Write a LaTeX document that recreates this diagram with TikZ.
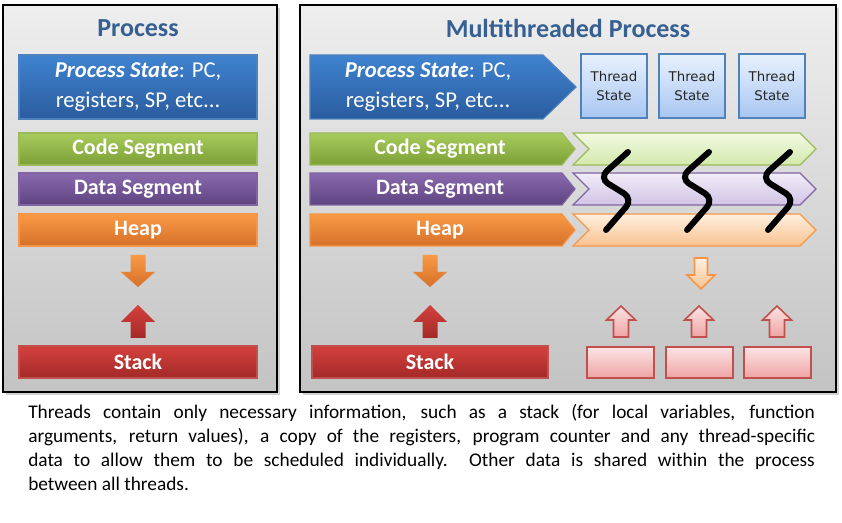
\documentclass[tikz,border=0pt]{standalone}
\usepackage{fontspec}
\setmainfont{Carlito}
\newfontfamily\statefont{DejaVu Sans}
\usetikzlibrary{shadows,calc}
\definecolor{TitleBlue}{HTML}{376092}
\definecolor{PanelTop}{HTML}{EEEEEE}
\definecolor{PanelBot}{HTML}{C3C3C3}
\definecolor{PsTop}{HTML}{3F83D0}
\definecolor{PsBot}{HTML}{2A5C9E}
\definecolor{PsLine}{HTML}{4F81BD}
\definecolor{CsTop}{HTML}{A8CB5C}
\definecolor{CsBot}{HTML}{7CA036}
\definecolor{CsLine}{HTML}{9BBB59}
\definecolor{DsTop}{HTML}{8A6AAE}
\definecolor{DsBot}{HTML}{5E4380}
\definecolor{DsLine}{HTML}{8064A2}
\definecolor{HpTop}{HTML}{F99A45}
\definecolor{HpBot}{HTML}{D6702A}
\definecolor{HpLine}{HTML}{F79646}
\definecolor{StTop}{HTML}{D4413E}
\definecolor{StBot}{HTML}{A32928}
\definecolor{StLine}{HTML}{C0504D}
\definecolor{TsTop}{HTML}{E8F1FD}
\definecolor{TsBot}{HTML}{A8C6F2}
\definecolor{LcTop}{HTML}{F2F9E4}
\definecolor{LcBot}{HTML}{D2EAAC}
\definecolor{LdTop}{HTML}{F1ECF7}
\definecolor{LdBot}{HTML}{D1C4E5}
\definecolor{LhTop}{HTML}{FEF0E0}
\definecolor{LhBot}{HTML}{F9C290}
\definecolor{LsTop}{HTML}{FBE4E4}
\definecolor{LsBot}{HTML}{EFA3A3}
\tikzset{
    panel/.style = {draw=black, line width=1.4pt,
        top color=PanelTop, bottom color=PanelBot,
        drop shadow={shadow xshift=2.5pt, shadow yshift=-2.5pt, opacity=.35}},
    seg/.style = {line width=.9pt},
    title/.style = {text=TitleBlue, font=\fontsize{19.5}{22}\selectfont\bfseries},
    segtext/.style = {text=white, font=\fontsize{16.5}{20}\selectfont\bfseries, inner sep=0pt},
    pstext/.style = {text=white, align=center, font=\fontsize{17}{20}\selectfont, inner sep=0pt},
    statetext/.style = {text=black!85, align=center, font=\statefont\fontsize{10}{14.5}\selectfont, inner sep=0pt},
    thread/.style = {line width=4.5pt, line cap=round, rounded corners=8pt}
}
% block arrow: x, from y, neck y, tip y, half shaft, half head, style
\newcommand{\blockarrow}[7]{%
    \path[#7] (#1-#5,#2) -- (#1+#5,#2) -- (#1+#5,#3) -- (#1+#6,#3) -- (#1,#4)
        -- (#1-#6,#3) -- (#1-#5,#3) -- cycle;}
\begin{document}
\begin{tikzpicture}[x=0.75pt,y=-0.75pt]
    \useasboundingbox[fill=white] (0,0) rectangle (842,523);
    % the two frames
    \path[panel] (3,5) rectangle (277,392);
    \path[panel] (300,5) rectangle (836,392);
    \node[title] (ptitle) at (138,28) {Process};
    \node[title] (mtitle) at (568,28) {Multithreaded Process};

    % single threaded process
    \path[seg, draw=PsLine, top color=PsTop, bottom color=PsBot] (19,55) rectangle (257,119);
    \path[seg, draw=CsLine, top color=CsTop, bottom color=CsBot] (19,133) rectangle (257,165);
    \path[seg, draw=DsLine, top color=DsTop, bottom color=DsBot] (19,173) rectangle (257,205);
    \path[seg, draw=HpLine, top color=HpTop, bottom color=HpBot] (19,214) rectangle (257,246);
    \path[seg, draw=StLine, top color=StTop, bottom color=StBot] (19,346) rectangle (257,378);
    \node[pstext] (lstate) at (138,87)
        {\textbf{\textit{Process State}}: PC,\\[2pt]registers, SP, etc...};
    \node[segtext] (lcode) at (138,149) {Code Segment};
    \node[segtext] (ldata) at (138,189) {Data Segment};
    \node[segtext] (lheap) at (138,230) {Heap};
    \node[segtext] (lstack) at (138,362) {Stack};
    \blockarrow{138}{255}{272}{287}{7.5}{17}{top color=HpTop, bottom color=HpBot}
    \blockarrow{138}{338}{322}{305}{7.5}{17}{top color=StTop, bottom color=StBot}

    % multithreaded process, shared part
    \path[seg, draw=PsLine, top color=PsTop, bottom color=PsBot]
        (310,55) -- (543,55) -- (576,87) -- (543,119) -- (310,119) -- cycle;
    \path[seg, draw=CsLine, top color=CsTop, bottom color=CsBot]
        (310,133) -- (562,133) -- (575,149) -- (562,165) -- (310,165) -- cycle;
    \path[seg, draw=DsLine, top color=DsTop, bottom color=DsBot]
        (310,173) -- (562,173) -- (575,189) -- (562,205) -- (310,205) -- cycle;
    \path[seg, draw=HpLine, top color=HpTop, bottom color=HpBot]
        (310,214) -- (562,214) -- (575,230) -- (562,246) -- (310,246) -- cycle;
    \path[seg, draw=StLine, top color=StTop, bottom color=StBot] (312,346) rectangle (548,378);
    \node[pstext] (rstate) at (428,87)
        {\textbf{\textit{Process State}}: PC,\\[2pt]registers, SP, etc...};
    \node[segtext] (rcode) at (440,149) {Code Segment};
    \node[segtext] (rdata) at (440,189) {Data Segment};
    \node[segtext] (rheap) at (440,230) {Heap};
    \node[segtext] (rstack) at (430,362) {Stack};
    \blockarrow{430}{255}{272}{287}{7.5}{17}{top color=HpTop, bottom color=HpBot}
    \blockarrow{430}{338}{322}{305}{7.5}{17}{top color=StTop, bottom color=StBot}

    % light chevrons behind the threads
    \path[seg, draw=CsLine, top color=LcTop, bottom color=LcBot]
        (573,133) -- (800,133) -- (816,149) -- (800,165) -- (573,165) -- (589,149) -- cycle;
    \path[seg, draw=DsLine, top color=LdTop, bottom color=LdBot]
        (573,173) -- (800,173) -- (816,189) -- (800,205) -- (573,205) -- (589,189) -- cycle;
    \path[seg, draw=HpLine, top color=LhTop, bottom color=LhBot]
        (573,214) -- (800,214) -- (816,230) -- (800,246) -- (573,246) -- (589,230) -- cycle;

    % per thread state, stacks and threads
    \foreach \tx/\i in {581/1,659/2,739/3} {
        \path[seg, draw=PsLine, top color=TsTop, bottom color=TsBot] (\tx,54) rectangle (\tx+66,118);
        \node[statetext] (ts\i) at (\tx+33,86) {Thread\\State};
    }
    \foreach \bx/\ax in {587/621,666/699,744/777} {
        \path[seg, line width=1.5pt, draw=StLine, top color=LsTop, bottom color=LsBot] (\bx,347) rectangle (\bx+67,378);
        \blockarrow{\ax}{337}{320}{306}{7.5}{14.5}{line width=1.2pt, draw=StLine, top color=LsTop, bottom color=LsBot}
    }
    \blockarrow{701}{258}{275}{289}{6.5}{14}{line width=1.2pt, draw=HpLine, top color=LhTop, bottom color=LhBot}
    \foreach \dx in {0,81,162}
        \draw[thread] (628+\dx,152) -- (599+\dx,178) -- (633+\dx,199) -- (606+\dx,230);

    \node[anchor=north west, inner sep=0pt, text width=590pt, align=justify,
        font=\fontsize{14.5}{18}\selectfont] (caption) at (28,404)
        {Threads contain only necessary information, such as a stack (for local variables, function\linebreak
        arguments, return values), a copy of the registers, program counter and any thread-specific\linebreak
        data to allow them to be scheduled individually.\ \ Other data is shared within the process\linebreak
        between all threads.};
\end{tikzpicture}
\end{document}
